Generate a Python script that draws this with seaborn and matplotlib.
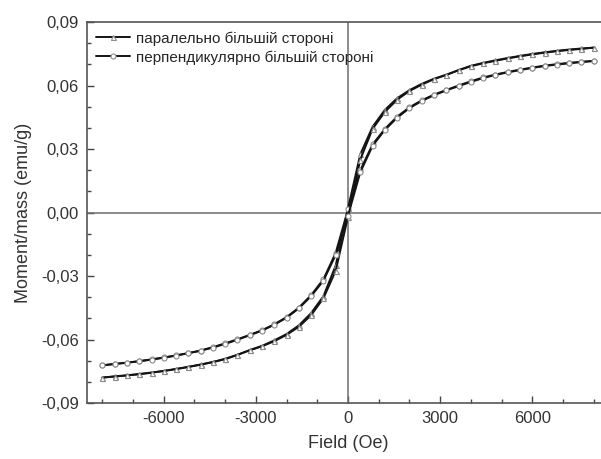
import numpy as np
import pandas as pd
import matplotlib
matplotlib.use('Agg')
import matplotlib.pyplot as plt
import seaborn as sns
from matplotlib.lines import Line2D
from matplotlib.ticker import MultipleLocator, FuncFormatter

# ------------------------------------------------------------
# Data
# ------------------------------------------------------------
field = [-8000, -7600, -7200, -6800, -6400, -6000, -5600, -5200, -4800, -4400,
         -4000, -3600, -3200, -2800, -2400, -2000, -1600, -1200, -800, -400,
         0, 400, 800, 1200, 1600, 2000, 2400, 2800, 3200, 3600,
         4000, 4400, 4800, 5200, 5600, 6000, 6400, 6800, 7200, 7600, 8000]

# паралельно більшій стороні (triangles)
par_up = [-0.0780, -0.0775, -0.0770, -0.0764, -0.0757, -0.0749, -0.0740, -0.0730, -0.0719, -0.0707,
          -0.0693, -0.0673, -0.0651, -0.0632, -0.0608, -0.0578, -0.0540, -0.0485, -0.0405, -0.0275,
          -0.0020, 0.0250, 0.0395, 0.0475, 0.0533, 0.0574, 0.0604, 0.0630, 0.0650, 0.0672,
          0.0691, 0.0705, 0.0717, 0.0728, 0.0738, 0.0747, 0.0755, 0.0762, 0.0768, 0.0773, 0.0779]
par_down = [-0.0780, -0.0774, -0.0769, -0.0763, -0.0756, -0.0748, -0.0739, -0.0729, -0.0718, -0.0706,
            -0.0691, -0.0672, -0.0650, -0.0630, -0.0604, -0.0574, -0.0533, -0.0475, -0.0395, -0.0250,
            0.0020, 0.0275, 0.0405, 0.0485, 0.0540, 0.0578, 0.0608, 0.0632, 0.0651, 0.0673,
            0.0693, 0.0707, 0.0719, 0.0730, 0.0740, 0.0749, 0.0757, 0.0764, 0.0770, 0.0775, 0.0779]

# перпендикулярно більшій стороні (circles)
perp_up = [-0.0722, -0.0716, -0.0710, -0.0703, -0.0695, -0.0686, -0.0676, -0.0665, -0.0653, -0.0638,
           -0.0621, -0.0601, -0.0580, -0.0558, -0.0530, -0.0497, -0.0453, -0.0395, -0.0322, -0.0200,
           -0.0015, 0.0190, 0.0315, 0.0390, 0.0448, 0.0493, 0.0527, 0.0554, 0.0577, 0.0597,
           0.0617, 0.0635, 0.0650, 0.0662, 0.0673, 0.0683, 0.0692, 0.0699, 0.0705, 0.0711, 0.0716]
perp_down = [-0.0722, -0.0715, -0.0709, -0.0702, -0.0694, -0.0685, -0.0675, -0.0664, -0.0652, -0.0636,
             -0.0618, -0.0599, -0.0578, -0.0556, -0.0528, -0.0494, -0.0449, -0.0390, -0.0315, -0.0190,
             0.0015, 0.0200, 0.0322, 0.0395, 0.0453, 0.0497, 0.0530, 0.0557, 0.0579, 0.0600,
             0.0620, 0.0638, 0.0652, 0.0664, 0.0675, 0.0685, 0.0694, 0.0701, 0.0707, 0.0712, 0.0716]

labels = ['паралельно більшій стороні', 'перпендикулярно більшій стороні']
markers = ['^', 'o']

# ------------------------------------------------------------
sns.set_style('ticks')
plt.rcParams['font.family'] = ['Liberation Sans', 'DejaVu Sans']

frames = []
for lab, up, down in [(labels[0], par_up, par_down), (labels[1], perp_up, perp_down)]:
    frames.append(pd.DataFrame({'field': field, 'moment': up, 'curve': lab, 'branch': 'up'}))
    frames.append(pd.DataFrame({'field': field, 'moment': down, 'curve': lab, 'branch': 'down'}))
df = pd.concat(frames, ignore_index=True)

fig = plt.figure(figsize=(6.01, 4.59), dpi=100)
ax = fig.add_axes([0.1448, 0.122, 0.8685, 0.830])

ax.axhline(0, color='#6e6e6e', lw=1.1, zorder=1)
ax.axvline(0, color='#6e6e6e', lw=1.1, zorder=1)

line_kw = dict(color='#141414', linewidth=1.4, markersize=3.6,
               markerfacecolor='white', markeredgecolor='#8c8c8c', markeredgewidth=0.8)

handles = []
for lab, mk in zip(labels, markers):
    sns.lineplot(data=df[df['curve'] == lab], x='field', y='moment', units='branch',
                 estimator=None, sort=False, marker=mk, ax=ax, zorder=3, **line_kw)
    handles.append(Line2D([], [], marker=mk, **line_kw))

ax.set_xlim(-8500, 8500)
ax.set_ylim(-0.09, 0.09)
ax.xaxis.set_major_locator(MultipleLocator(3000))
ax.xaxis.set_minor_locator(MultipleLocator(1000))
ax.yaxis.set_major_locator(MultipleLocator(0.03))
ax.yaxis.set_minor_locator(MultipleLocator(0.01))
ax.yaxis.set_major_formatter(FuncFormatter(lambda v, p: f'{v:.2f}'.replace('.', ',').replace('-0,00', '0,00')))
ax.xaxis.set_major_formatter(FuncFormatter(lambda v, p: f'{v:.0f}'))

ax.tick_params(which='both', direction='in', colors='#444444', labelcolor='#333333',
               labelsize=12, width=1.0)
ax.tick_params(which='major', length=5, pad=6)
ax.tick_params(which='minor', length=3)
for s in ax.spines.values():
    s.set_color('#555555')
    s.set_linewidth(1.2)

ax.set_xlabel('Field (Oe)', fontsize=13, color='#333333', labelpad=6)
ax.set_ylabel('Moment/mass (emu/g)', fontsize=13, color='#333333', labelpad=6)

ax.legend(handles, labels, loc='upper left', frameon=False, fontsize=11,
          handlelength=2.2, handletextpad=0.4, labelspacing=0.3,
          borderaxespad=0.3, borderpad=0.3)

fig.savefig('out.png', dpi=100)
